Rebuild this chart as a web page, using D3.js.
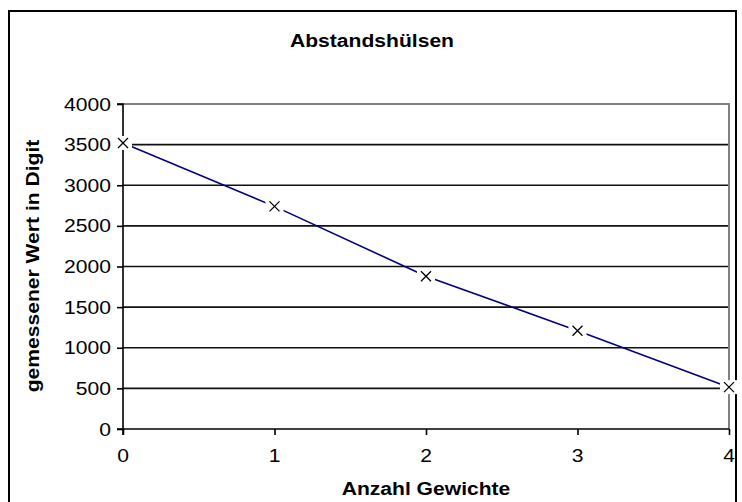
<!DOCTYPE html>
<html>
<head>
<meta charset="utf-8">
<script src="https://cdn.jsdelivr.net/npm/d3@7"></script>
<style>
  html, body { margin: 0; padding: 0; background: #fff; }
  svg { display: block; }
  text { font-family: "Liberation Sans", Arial, sans-serif; fill: #000; }
</style>
</head>
<body>
<svg id="chart" width="742" height="502"></svg>
<script>
// Measurements: number of weights vs. measured value (digits)
const gewichte = [0, 1, 2, 3, 4];
const messwerte = [3520, 2740, 1880, 1210, 515];
const yTicks = [0, 500, 1000, 1500, 2000, 2500, 3000, 3500, 4000];
const xTicks = [0, 1, 2, 3, 4];
const titel = "Abstandshülsen";
const xTitel = "Anzahl Gewichte";
const yTitel = "gemessener Wert in Digit";

const svg = d3.select("#chart");
const plot = { left: 123, right: 729, top: 104, bottom: 429 };
const stretch = 1.14; // wide text rendering
const fs = 18.5;

const x = d3.scaleLinear().domain([0, 4]).range([plot.left, plot.right]);
const y = d3.scaleLinear().domain([0, 4000]).range([plot.bottom, plot.top]);

// outer chart frame
svg.append("rect")
  .attr("x", 9).attr("y", 11).attr("width", 727).attr("height", 520)
  .attr("fill", "#fff").attr("stroke", "#000").attr("stroke-width", 2);

// helper: place stretched text at an anchor
function label(g, str, px, py, opts = {}) {
  const rot = opts.rotate ? ` rotate(${opts.rotate})` : "";
  return g.append("text")
    .attr("transform", `translate(${px},${py})${rot} scale(${stretch},1)`)
    .attr("text-anchor", opts.anchor || "middle")
    .attr("font-size", opts.size || fs)
    .attr("font-weight", opts.bold ? "bold" : "normal")
    .text(str);
}

// horizontal gridlines
svg.append("g").selectAll("line")
  .data(yTicks.filter(d => d > 0 && d < 4000))
  .join("line")
  .attr("x1", plot.left).attr("x2", plot.right)
  .attr("y1", d => y(d)).attr("y2", d => y(d))
  .attr("stroke", "#111").attr("stroke-width", 1.6);

// plot area border (top and right, grey)
svg.append("path")
  .attr("d", `M${plot.left},${plot.top}H${plot.right}V${plot.bottom}`)
  .attr("fill", "none").attr("stroke", "#808080").attr("stroke-width", 2);

// axes
const yAxis = d3.axisLeft(y).tickValues(yTicks).tickSize(6).tickFormat("");
const xAxis = d3.axisBottom(x).tickValues(xTicks).tickSize(6).tickFormat("");
const gy = svg.append("g").attr("transform", `translate(${plot.left},0)`).call(yAxis);
const gx = svg.append("g").attr("transform", `translate(0,${plot.bottom})`).call(xAxis);
[gx, gy].forEach(g => {
  g.select(".domain").attr("stroke", "#000").attr("stroke-width", 1.6);
  g.selectAll(".tick line").attr("stroke", "#000").attr("stroke-width", 1.6);
});
// y axis line continues through the x tick length
gy.select(".domain").attr("d", `M-6,${y(4000)}H0V${plot.bottom + 6}`);
gx.select(".domain").attr("d", `M${plot.left - 6},0H${plot.right}`);

// tick labels
const tl = svg.append("g");
yTicks.forEach(v => label(tl, String(v), 111, y(v) + 6.5, { anchor: "end" }));
xTicks.forEach(v => label(tl, String(v), x(v), 462));

// data line
const pts = gewichte.map((g, i) => [g, messwerte[i]]);
svg.append("path")
  .datum(pts)
  .attr("d", d3.line().x(d => x(d[0])).y(d => y(d[1])))
  .attr("fill", "none").attr("stroke", "#000080").attr("stroke-width", 1.6);

// markers with white backing box
const mk = svg.append("g").selectAll("g").data(pts).join("g")
  .attr("transform", d => `translate(${x(d[0])},${y(d[1])})`);
mk.append("rect")
  .attr("x", -9).attr("y", -7).attr("width", 18).attr("height", 14)
  .attr("fill", "#fff");
mk.append("path")
  .attr("d", "M-5,-5L5,5M-5,5L5,-5")
  .attr("stroke", "#000").attr("stroke-width", 1.3).attr("fill", "none");

// titles
label(svg, titel, 372, 47, { bold: true });
label(svg, xTitel, x(2), 495, { bold: true });
label(svg, yTitel, 39, 266, { bold: true, rotate: -90 });
</script>
</body>
</html>
